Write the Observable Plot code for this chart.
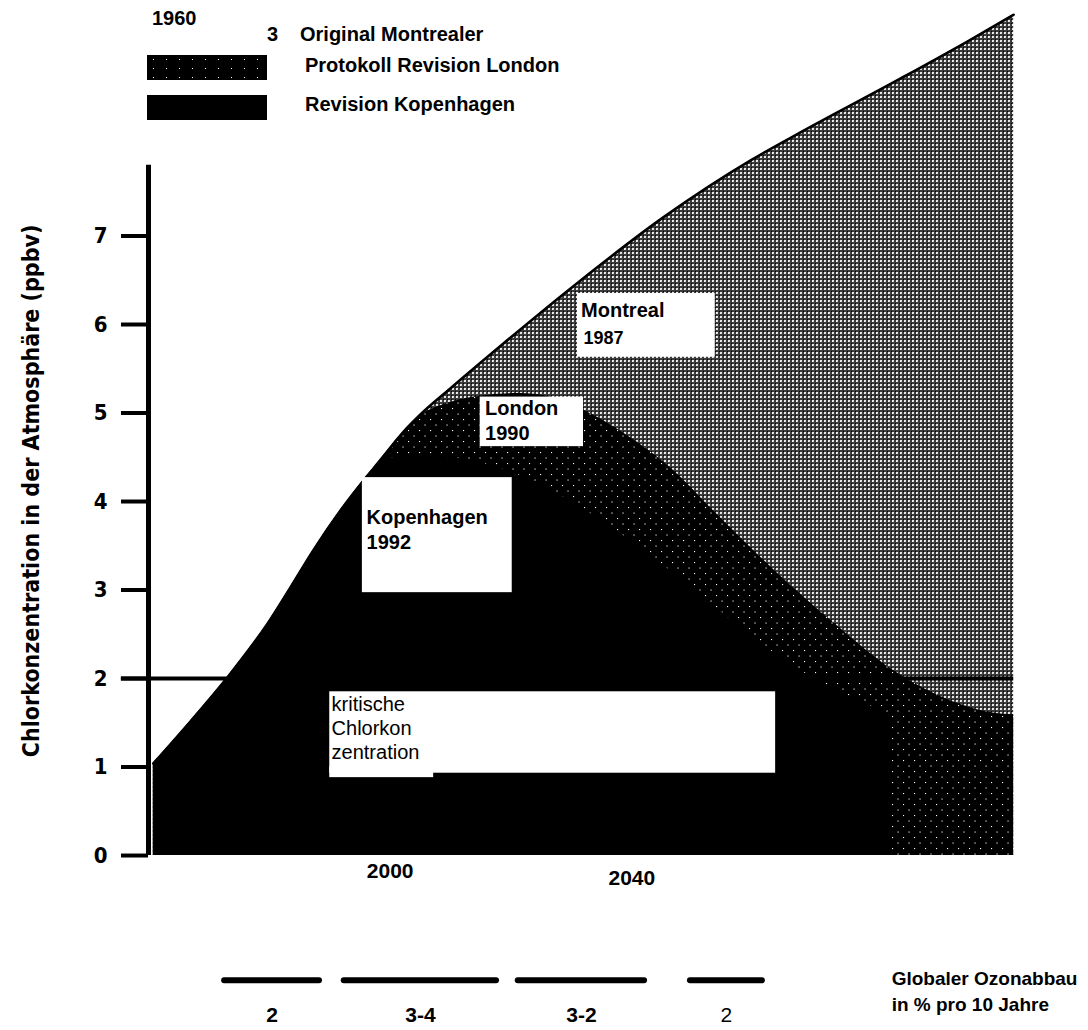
<!DOCTYPE html>
<html>
<head>
<meta charset="utf-8">
<script src="https://cdn.jsdelivr.net/npm/d3@7"></script>
<script src="https://cdn.jsdelivr.net/npm/@observablehq/plot@0.6"></script>
<style>
  body { margin: 0; background: #fff; }
  #wrap { position: relative; width: 1088px; height: 1030px; overflow: hidden;
          font-family: "Liberation Sans", Arial, sans-serif; }
  #wrap svg { position: absolute; left: 0; top: 0; }
  .lg { position: absolute; font-weight: bold; font-size: 20px; line-height: 20px;
        white-space: nowrap; color: #000; }
  .sw { position: absolute; left: 147px; width: 120px; height: 25px; background: #000; }
  .sw.dots { background: #000 radial-gradient(circle, #fff 0.7px, transparent 1px) 0 0 / 13px 9px; }
</style>
</head>
<body>
<div id="wrap"></div>
<script>
// ---- data (years, chlorine concentration in ppbv) ----
const montrealYears = [1960.8, 1967.0, 1973.6, 1979.7, 1983.5, 1987.3, 1991.8, 1997.2, 2004.5, 2010.0, 2018.3, 2031.0, 2045.2, 2059.8, 2067.9, 2084.5, 2095.6, 2103.2];
const montrealPpbv  = [1.04, 1.52, 2.06, 2.62, 3.03, 3.45, 3.90, 4.37, 4.95, 5.28, 5.76, 6.47, 7.21, 7.86, 8.17, 8.78, 9.20, 9.50];

const londonYears = [1960.8, 1967.0, 1973.6, 1979.7, 1983.5, 1987.3, 1991.8, 1997.2, 2004.5, 2010.0, 2014.9, 2021.6, 2028.2, 2032.7, 2040.9, 2046.9, 2053.0, 2060.1, 2066.3, 2073.4, 2083.3, 2092.7, 2101.0, 2103.2];
const londonPpbv  = [1.04, 1.52, 2.06, 2.62, 3.03, 3.45, 3.90, 4.37, 4.95, 5.12, 5.19, 5.22, 5.15, 5.01, 4.67, 4.35, 3.93, 3.45, 3.05, 2.63, 2.09, 1.75, 1.60, 1.59];

const kopYears = [1960.8, 1967.0, 1973.6, 1979.7, 1983.5, 1987.3, 1991.8, 1997.2, 1998.4, 2001.7, 2008.3, 2014.9, 2021.6, 2028.2, 2034.8, 2043.1, 2051.4, 2059.6, 2067.9, 2076.2, 2082.8];
const kopPpbv  = [1.04, 1.52, 2.06, 2.62, 3.03, 3.45, 3.90, 4.37, 4.45, 4.50, 4.50, 4.44, 4.29, 4.07, 3.79, 3.39, 2.94, 2.49, 2.09, 1.79, 1.60];

const yTicks = [0, 1, 2, 3, 4, 5, 6, 7];
const xLabelYears = [2000, 2040];
const criticalLevel = 2;

const ozoneStart  = [1972.6, 1992.4, 2021.2, 2049.7];
const ozoneEnd    = [1988.3, 2017.6, 2042.1, 2061.6];
const ozoneLabels = ["2", "3-4", "3-2", "2"];

const yAxisLabel = "Chlorkonzentration in der Atmosphäre (ppbv)";

// ---- tables built from the arrays ----
const montreal = montrealYears.map((year, i) => ({year, v: montrealPpbv[i]}));
const london   = londonYears.map((year, i) => ({year, v: londonPpbv[i]}));
const kop      = kopYears.map((year, i) => ({year, v: kopPpbv[i]}));
const ozone    = ozoneStart.map((s, i) => ({s, e: ozoneEnd[i], label: ozoneLabels[i], bold: i < 3}));

const ARIAL = "Liberation Sans, Arial, sans-serif";
const COND  = "DejaVu Sans Condensed, DejaVu Sans, sans-serif";
const curve = "monotone-x";

const chart = Plot.plot({
  width: 1088,
  height: 1030,
  marginLeft: 148,
  marginRight: 73,
  marginTop: 5.4,
  marginBottom: 2.4,
  style: {fontFamily: ARIAL, background: "transparent"},
  x: {domain: [1960, 2103.5], axis: null},
  y: {domain: [-1.95, 9.6]},
  marks: [
    // stacked regions
    Plot.areaY(montreal, {x: "year", y: "v", fill: "url(#pat-montreal)", curve}),
    Plot.areaY(london, {x: "year", y: "v", fill: "url(#pat-london)", curve}),
    Plot.areaY(kop, {x: "year", y: "v", fill: "#000", curve}),
    Plot.line(montreal, {x: "year", y: "v", stroke: "#000", strokeWidth: 2.6, curve}),

    // critical concentration line
    Plot.ruleY([criticalLevel], {x1: 1955.5, x2: 2103.2, stroke: "#000", strokeWidth: 4}),

    // white annotation boxes
    Plot.rect([0], {x1: 2031.0, x2: 2053.8, y1: 5.63, y2: 6.35, fill: "#fff"}),
    Plot.text(["Montreal"], {x: 2031.6, y: 6.16, textAnchor: "start", fontSize: 20, fontWeight: "bold", fontFamily: ARIAL}),
    Plot.text(["1987"], {x: 2032.0, y: 5.85, textAnchor: "start", fontSize: 18, fontWeight: "bold", fontFamily: ARIAL}),

    Plot.rect([0], {x1: 2014.9, x2: 2032.0, y1: 4.62, y2: 5.18, fill: "#fff"}),
    Plot.text(["London"], {x: 2015.7, y: 5.05, textAnchor: "start", fontSize: 20, fontWeight: "bold", fontFamily: ARIAL}),
    Plot.text(["1990"], {x: 2015.7, y: 4.77, textAnchor: "start", fontSize: 20, fontWeight: "bold", fontFamily: ARIAL}),

    Plot.rect([0], {x1: 1995.4, x2: 2020.2, y1: 2.97, y2: 4.27, fill: "#fff"}),
    Plot.text(["Kopenhagen"], {x: 1996.1, y: 3.82, textAnchor: "start", fontSize: 20, fontWeight: "bold", fontFamily: ARIAL}),
    Plot.text(["1992"], {x: 1996.1, y: 3.54, textAnchor: "start", fontSize: 20, fontWeight: "bold", fontFamily: ARIAL}),

    Plot.rect([0], {x1: 1990.0, x2: 2063.8, y1: 0.93, y2: 1.85, fill: "#fff"}),
    Plot.rect([0], {x1: 1990.0, x2: 2007.2, y1: 0.88, y2: 1.0, fill: "#fff"}),
    Plot.text(["kritische\nChlorkon\nzentration"], {x: 1990.3, y: 1.45, textAnchor: "start", lineHeight: 1.2, fontSize: 20, fontFamily: ARIAL}),

    // y axis
    Plot.ruleX([1960], {y1: 0, y2: 7.8, stroke: "#000", strokeWidth: 5}),
    Plot.axisY(yTicks, {anchor: "left", tickSize: 27, tickPadding: 14, strokeWidth: 4,
      fontSize: 22, fontWeight: "bold", fontFamily: COND, tickFormat: d => String(d), label: null}),
    Plot.text([yAxisLabel], {x: 1960, y: 4.12, dx: -117, rotate: -90, fontSize: 23, fontWeight: "bold", fontFamily: COND}),

    // x labels
    Plot.text([xLabelYears[0]], {x: d => d, y: 0, dy: 16, text: d => String(d), fontSize: 21, fontWeight: "bold", fontFamily: ARIAL}),
    Plot.text([xLabelYears[1]], {x: d => d, y: 0, dy: 23, text: d => String(d), fontSize: 21, fontWeight: "bold", fontFamily: ARIAL}),

    // ozone depletion periods
    Plot.ruleY(ozone, {x1: "s", x2: "e", y: -1.41, stroke: "#000", strokeWidth: 6, strokeLinecap: "round"}),
    Plot.text(ozone.filter(d => d.bold), {x: d => (d.s + d.e) / 2, y: -1.8, text: "label", fontSize: 21, fontWeight: "bold", fontFamily: ARIAL}),
    Plot.text(ozone.filter(d => !d.bold), {x: d => (d.s + d.e) / 2, y: -1.8, text: "label", fontSize: 21, fontFamily: ARIAL}),
    Plot.text(["Globaler Ozonabbau\nin % pro 10 Jahre"], {x: 2083.0, y: -1.52, textAnchor: "start", lineHeight: 1.35, fontSize: 19, fontWeight: "bold", fontFamily: ARIAL})
  ]
});

// fill patterns for the scanned textures
const svg = d3.select(chart);
const defs = svg.insert("defs", ":first-child");
const pm = defs.append("pattern").attr("id", "pat-montreal")
  .attr("patternUnits", "userSpaceOnUse").attr("width", 4).attr("height", 4);
pm.append("rect").attr("width", 4).attr("height", 4).attr("fill", "#3c3c3c");
pm.append("circle").attr("cx", 1).attr("cy", 1).attr("r", 1.05).attr("fill", "#fff");
pm.append("rect").attr("x", 3).attr("y", 3).attr("width", 1).attr("height", 1).attr("fill", "#000");
const pl = defs.append("pattern").attr("id", "pat-london")
  .attr("patternUnits", "userSpaceOnUse").attr("width", 11).attr("height", 11);
pl.append("rect").attr("width", 11).attr("height", 11).attr("fill", "#000");
pl.append("rect").attr("x", 1).attr("y", 1).attr("width", 1.1).attr("height", 1.1).attr("fill", "#fff");
pl.append("rect").attr("x", 6.5).attr("y", 6.5).attr("width", 1.1).attr("height", 1.1).attr("fill", "#fff");

const wrap = document.getElementById("wrap");
wrap.appendChild(chart);

// legend overlay
const legend = [
  {text: "1960", left: 152, top: 8},
  {text: "3", left: 267, top: 24},
  {text: "Original Montrealer", left: 300, top: 24},
  {text: "Protokoll Revision London", left: 305, top: 55},
  {text: "Revision Kopenhagen", left: 305, top: 94}
];
for (const d of legend) {
  const el = document.createElement("div");
  el.className = "lg"; el.textContent = d.text;
  el.style.left = d.left + "px"; el.style.top = d.top + "px";
  wrap.appendChild(el);
}
const sw1 = document.createElement("div"); sw1.className = "sw dots"; sw1.style.top = "55px"; wrap.appendChild(sw1);
const sw2 = document.createElement("div"); sw2.className = "sw"; sw2.style.top = "95px"; wrap.appendChild(sw2);
</script>
</body>
</html>
